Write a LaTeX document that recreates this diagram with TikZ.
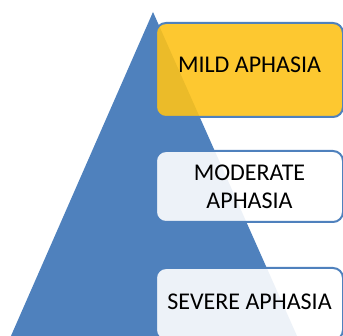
\documentclass[tikz,border=0pt]{standalone}
\usepackage{fontspec}
\setmainfont{Carlito}
\usepackage{xcolor}
\usepackage{tikz}

\definecolor{pyrblue}{HTML}{4F81BD}
\definecolor{mildyellow}{HTML}{FDC219}

\tikzset{
  level/.style={draw=pyrblue, line width=2pt, rounded corners=10pt,
    fill opacity=0.9, text opacity=1, text=black, anchor=north west,
    minimum width=187pt, align=center, inner sep=0pt,
    font=\fontsize{24}{28}\selectfont}
}

\begin{document}
\begin{tikzpicture}[x=1pt, y=-1pt]
    \useasboundingbox (0,0) rectangle (343,336);
    \clip (0,0) rectangle (343,336);
    % pyramid
    \fill[pyrblue] (153,12) -- (301,345) -- (7,345) -- cycle;

    \node (mild) [level, fill=mildyellow, minimum height=94pt, text depth=10pt] at (155,22) {MILD APHASIA};
    \node (moderate) [level, fill=white, minimum height=71pt] at (155,150) {MODERATE\\APHASIA};
    \node (severe) [level, fill=white, minimum height=72pt, text depth=5pt] at (155,267) {SEVERE APHASIA};
\end{tikzpicture}
\end{document}
